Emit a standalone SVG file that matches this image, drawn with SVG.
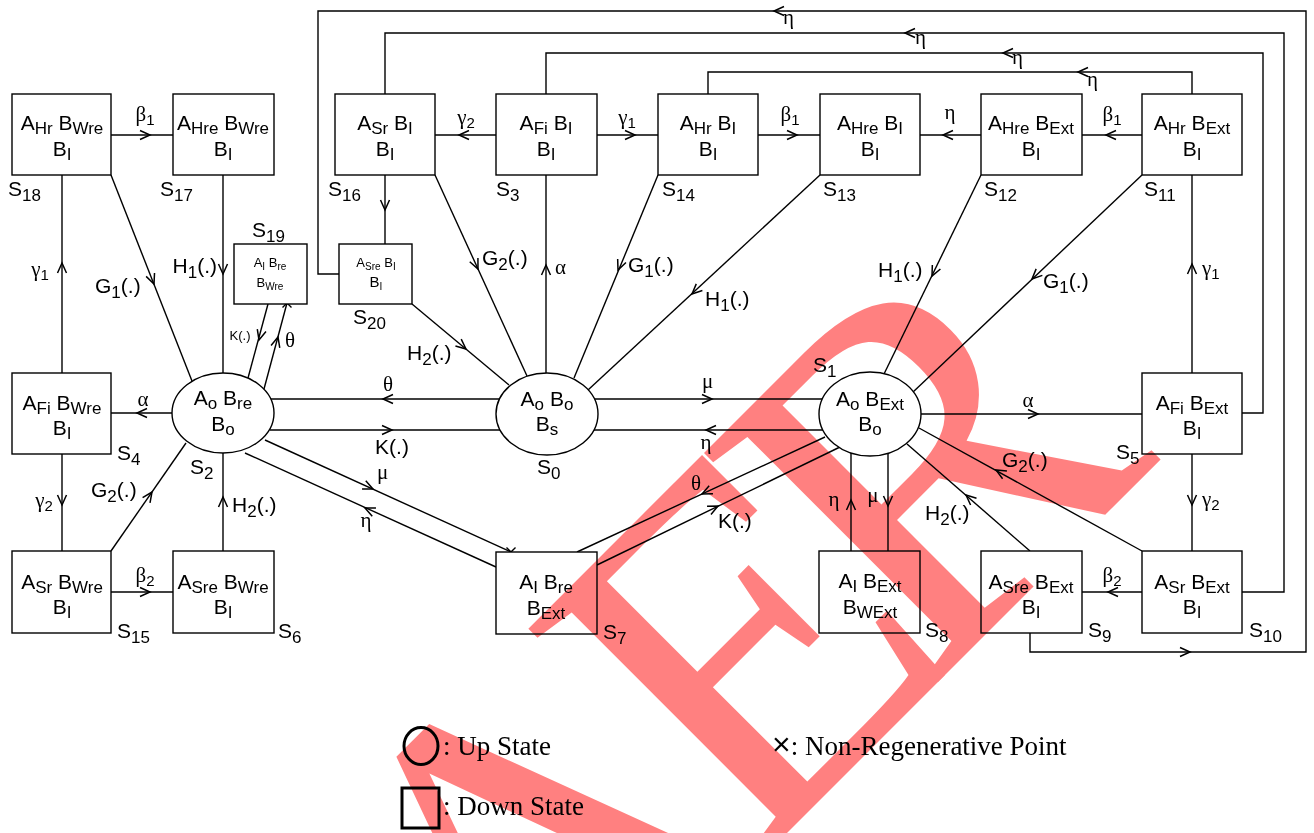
<svg xmlns="http://www.w3.org/2000/svg" xmlns:xlink="http://www.w3.org/1999/xlink" width="1314" height="833" viewBox="0 0 1314 833">
<style>
.ln{fill:none;stroke:#000;stroke-width:1.4}
.bx{fill:#fff;stroke:#000;stroke-width:1.4}
.nt{font-family:"Liberation Sans",Arial,sans-serif;font-size:21px;fill:#000;text-anchor:middle}
.sm{font-family:"Liberation Sans",Arial,sans-serif;font-size:13px;fill:#000;text-anchor:middle}
.sb{font-size:17px}
.ssb{font-size:10px}
.sl{font-family:"Liberation Sans",Arial,sans-serif;font-size:21px;fill:#000}
.el{font-family:"Liberation Sans",Arial,sans-serif;font-size:21px;fill:#000}
.gk{font-family:"Liberation Serif","DejaVu Serif",serif;font-size:21px;fill:#000}
.gs{font-family:"Liberation Sans",Arial,sans-serif;font-size:15px}
.mid{text-anchor:middle}
.end{text-anchor:end}
.lg{font-family:"Liberation Serif","Times New Roman",serif;font-size:27px;fill:#000}
.wm{font-family:"Liberation Serif","Times New Roman",serif;fill:#ff8080;mix-blend-mode:multiply}
</style>
<defs>
<path id="ah" d="M-10,-4.5 L0,0 L-10,4.5" fill="none" stroke="#000" stroke-width="1.5"/>
<path id="xm" d="M-4.5,-4.5 L4.5,4.5 M-4.5,4.5 L4.5,-4.5" fill="none" stroke="#000" stroke-width="1.4"/>
</defs>
<rect width="1314" height="833" fill="#fff"/>

<g id="connectors">
<path class="ln" d="M111,135H173"/><use href="#ah" transform="translate(150,135)"/>
<path class="ln" d="M435,135H496"/><use href="#ah" transform="translate(459,135) rotate(180)"/>
<path class="ln" d="M597,135H658"/><use href="#ah" transform="translate(635,135)"/>
<path class="ln" d="M758,135H820"/><use href="#ah" transform="translate(797,135)"/>
<path class="ln" d="M920,135H981"/><use href="#ah" transform="translate(943,135) rotate(180)"/>
<path class="ln" d="M1082,135H1142"/><use href="#ah" transform="translate(1106,135) rotate(180)"/>

<path class="ln" d="M1030,633V652H1306V11H318V274H339"/><use href="#ah" transform="translate(1190,652)"/><use href="#ah" transform="translate(774,11) rotate(180)"/>
<path class="ln" d="M1242,592H1284V33H385V94"/><use href="#ah" transform="translate(905,33) rotate(180)"/>
<path class="ln" d="M1242,413H1263V53H546V94"/><use href="#ah" transform="translate(1003,53) rotate(180)"/>
<path class="ln" d="M1192,94V72H708V94"/><use href="#ah" transform="translate(1078,72) rotate(180)"/>

<path class="ln" d="M62,373V175"/><use href="#ah" transform="translate(62,263) rotate(-90)"/>
<path class="ln" d="M62,454V551"/><use href="#ah" transform="translate(62,505) rotate(90)"/>
<path class="ln" d="M111,592H173"/><use href="#ah" transform="translate(150,592)"/>
<path class="ln" d="M223,551V453"/><use href="#ah" transform="translate(223,497) rotate(-90)"/>
<path class="ln" d="M223,175V373"/><use href="#ah" transform="translate(223,274) rotate(90)"/>
<path class="ln" d="M172,413H111"/><use href="#ah" transform="translate(137,413) rotate(180)"/>
<path class="ln" d="M111,175L192,381"/><use href="#ah" transform="translate(154,284) rotate(68.5)"/>
<path class="ln" d="M111,551L186,443"/><use href="#ah" transform="translate(152,492) rotate(-55.3)"/>
<path class="ln" d="M268,304L248,378"/><use href="#ah" transform="translate(259,340) rotate(105.3)"/>
<path class="ln" d="M264,389L287,303"/><use href="#ah" transform="translate(278,337) rotate(-75)"/>
<path class="ln" d="M500,399H270"/><use href="#ah" transform="translate(383,399) rotate(180)"/>
<path class="ln" d="M270,430H500"/><use href="#ah" transform="translate(392,430)"/>
<path class="ln" d="M265,440L511,552"/><use href="#ah" transform="translate(373,489) rotate(24.5)"/>
<path class="ln" d="M496,567L245,453"/><use href="#ah" transform="translate(365,508) rotate(204.4)"/>
<path class="ln" d="M385,175V244"/><use href="#ah" transform="translate(385,210) rotate(90)"/>
<path class="ln" d="M412,304L509,385"/><use href="#ah" transform="translate(466,349) rotate(39.9)"/>
<path class="ln" d="M435,175L527,376"/><use href="#ah" transform="translate(478,269) rotate(65.4)"/>
<path class="ln" d="M546,373V175"/><use href="#ah" transform="translate(546,265) rotate(-90)"/>
<path class="ln" d="M658,175L574,378"/><use href="#ah" transform="translate(618,270) rotate(112.5)"/>
<path class="ln" d="M820,175L588,390"/><use href="#ah" transform="translate(692,294) rotate(137.2)"/>
<path class="ln" d="M594,399H822"/><use href="#ah" transform="translate(712,399)"/>
<path class="ln" d="M823,430H594"/><use href="#ah" transform="translate(706,430) rotate(180)"/>
<path class="ln" d="M825,437L577,552"/><use href="#ah" transform="translate(702,494) rotate(155.1)"/>
<path class="ln" d="M597,565L840,447"/><use href="#ah" transform="translate(718,506) rotate(-25.9)"/>
<path class="ln" d="M851,551V452"/><use href="#ah" transform="translate(851,500) rotate(-90)"/>
<path class="ln" d="M888,453V551"/><use href="#ah" transform="translate(888,506) rotate(90)"/>
<path class="ln" d="M1030,551L907,444"/><use href="#ah" transform="translate(966,495) rotate(-139)"/>
<path class="ln" d="M1142,551L919,428"/><use href="#ah" transform="translate(996,470) rotate(-151.1)"/>
<path class="ln" d="M921,414H1142"/><use href="#ah" transform="translate(1038,414)"/>
<path class="ln" d="M1192,373V175"/><use href="#ah" transform="translate(1192,264) rotate(-90)"/>
<path class="ln" d="M1192,454V551"/><use href="#ah" transform="translate(1192,505) rotate(90)"/>
<path class="ln" d="M1142,592H1082"/><use href="#ah" transform="translate(1108,592) rotate(180)"/>
<path class="ln" d="M981,175L884,374"/><use href="#ah" transform="translate(932,276) rotate(116)"/>
<path class="ln" d="M1142,175L912,393"/><use href="#ah" transform="translate(1032,279) rotate(136.5)"/>
<use href="#xm" transform="translate(287,303)"/>
<use href="#xm" transform="translate(511,552)"/>
</g>

<g id="edge-labels">
<text class="gk mid" x="145" y="121">β<tspan class="gs" dy="4">1</tspan></text>
<text class="gk mid" x="466" y="124">γ<tspan class="gs" dy="4">2</tspan></text>
<text class="gk mid" x="627" y="124">γ<tspan class="gs" dy="4">1</tspan></text>
<text class="gk mid" x="790" y="121">β<tspan class="gs" dy="4">1</tspan></text>
<text class="gk mid" x="950" y="119">η</text>
<text class="gk mid" x="1112" y="121">β<tspan class="gs" dy="4">1</tspan></text>
<text class="gk" x="783" y="24">η</text>
<text class="gk" x="915" y="44">η</text>
<text class="gk" x="1012" y="64">η</text>
<text class="gk" x="1087" y="86">η</text>
<text class="gk mid" x="40" y="276">γ<tspan class="gs" dy="4">1</tspan></text>
<text class="el" x="95" y="293">G<tspan class="sb" dy="5">1</tspan><tspan dy="-5">(.)</tspan></text>
<text class="el end" x="217" y="273">H<tspan class="sb" dy="5">1</tspan><tspan dy="-5">(.)</tspan></text>
<text class="sm" x="240" y="340">K(.)</text>
<text class="gk" x="285" y="347">θ</text>
<text class="gk mid" x="143" y="406">α</text>
<text class="gk mid" x="44" y="507">γ<tspan class="gs" dy="4">2</tspan></text>
<text class="el" x="91" y="497">G<tspan class="sb" dy="5">2</tspan><tspan dy="-5">(.)</tspan></text>
<text class="gk mid" x="145" y="582">β<tspan class="gs" dy="4">2</tspan></text>
<text class="el" x="232" y="512">H<tspan class="sb" dy="5">2</tspan><tspan dy="-5">(.)</tspan></text>
<text class="gk mid" x="388" y="391">θ</text>
<text class="el mid" x="392" y="454">K(.)</text>
<text class="gk" x="377" y="479">μ</text>
<text class="gk mid" x="366" y="527">η</text>
<text class="el" x="407" y="360">H<tspan class="sb" dy="5">2</tspan><tspan dy="-5">(.)</tspan></text>
<text class="el" x="482" y="265">G<tspan class="sb" dy="5">2</tspan><tspan dy="-5">(.)</tspan></text>
<text class="gk" x="555" y="274">α</text>
<text class="el" x="628" y="272">G<tspan class="sb" dy="5">1</tspan><tspan dy="-5">(.)</tspan></text>
<text class="el" x="705" y="306">H<tspan class="sb" dy="5">1</tspan><tspan dy="-5">(.)</tspan></text>
<text class="gk" x="702" y="388">μ</text>
<text class="gk mid" x="706" y="449">η</text>
<text class="gk mid" x="696" y="490">θ</text>
<text class="el" x="718" y="528">K(.)</text>
<text class="gk mid" x="834" y="506">η</text>
<text class="gk mid" x="873" y="502">μ</text>
<text class="el" x="925" y="520">H<tspan class="sb" dy="5">2</tspan><tspan dy="-5">(.)</tspan></text>
<text class="el" x="1002" y="467">G<tspan class="sb" dy="5">2</tspan><tspan dy="-5">(.)</tspan></text>
<text class="gk mid" x="1028" y="407">α</text>
<text class="gk" x="1202" y="275">γ<tspan class="gs" dy="4">1</tspan></text>
<text class="gk" x="1202" y="506">γ<tspan class="gs" dy="4">2</tspan></text>
<text class="gk mid" x="1112" y="582">β<tspan class="gs" dy="4">2</tspan></text>
<text class="el" x="878" y="277">H<tspan class="sb" dy="5">1</tspan><tspan dy="-5">(.)</tspan></text>
<text class="el" x="1043" y="288">G<tspan class="sb" dy="5">1</tspan><tspan dy="-5">(.)</tspan></text>
</g>

<g id="S18"><rect class="bx" x="12" y="94" width="99" height="81"/>
<text class="nt" x="62" y="130">A<tspan class="sb" dy="4">Hr</tspan><tspan dy="-4"> B</tspan><tspan class="sb" dy="4">Wre</tspan></text>
<text class="nt" x="62" y="156">B<tspan class="sb" dy="4">I</tspan></text>
<text class="sl" x="8" y="196">S<tspan class="sb" dy="5">18</tspan></text></g>

<g id="S17"><rect class="bx" x="173" y="94" width="101" height="81"/>
<text class="nt" x="223" y="130">A<tspan class="sb" dy="4">Hre</tspan><tspan dy="-4"> B</tspan><tspan class="sb" dy="4">Wre</tspan></text>
<text class="nt" x="223" y="156">B<tspan class="sb" dy="4">I</tspan></text>
<text class="sl" x="160" y="196">S<tspan class="sb" dy="5">17</tspan></text></g>

<g id="S16"><rect class="bx" x="335" y="94" width="100" height="81"/>
<text class="nt" x="385" y="130">A<tspan class="sb" dy="4">Sr</tspan><tspan dy="-4"> B</tspan><tspan class="sb" dy="4">I</tspan></text>
<text class="nt" x="385" y="156">B<tspan class="sb" dy="4">I</tspan></text>
<text class="sl" x="328" y="196">S<tspan class="sb" dy="5">16</tspan></text></g>

<g id="S3"><rect class="bx" x="496" y="94" width="101" height="81"/>
<text class="nt" x="546" y="130">A<tspan class="sb" dy="4">Fi</tspan><tspan dy="-4"> B</tspan><tspan class="sb" dy="4">I</tspan></text>
<text class="nt" x="546" y="156">B<tspan class="sb" dy="4">I</tspan></text>
<text class="sl" x="496" y="196">S<tspan class="sb" dy="5">3</tspan></text></g>

<g id="S14"><rect class="bx" x="658" y="94" width="100" height="81"/>
<text class="nt" x="708" y="130">A<tspan class="sb" dy="4">Hr</tspan><tspan dy="-4"> B</tspan><tspan class="sb" dy="4">I</tspan></text>
<text class="nt" x="708" y="156">B<tspan class="sb" dy="4">I</tspan></text>
<text class="sl" x="662" y="196">S<tspan class="sb" dy="5">14</tspan></text></g>

<g id="S13"><rect class="bx" x="820" y="94" width="100" height="81"/>
<text class="nt" x="870" y="130">A<tspan class="sb" dy="4">Hre</tspan><tspan dy="-4"> B</tspan><tspan class="sb" dy="4">I</tspan></text>
<text class="nt" x="870" y="156">B<tspan class="sb" dy="4">I</tspan></text>
<text class="sl" x="823" y="196">S<tspan class="sb" dy="5">13</tspan></text></g>

<g id="S12"><rect class="bx" x="981" y="94" width="101" height="81"/>
<text class="nt" x="1031" y="130">A<tspan class="sb" dy="4">Hre</tspan><tspan dy="-4"> B</tspan><tspan class="sb" dy="4">Ext</tspan></text>
<text class="nt" x="1031" y="156">B<tspan class="sb" dy="4">I</tspan></text>
<text class="sl" x="984" y="196">S<tspan class="sb" dy="5">12</tspan></text></g>

<g id="S11"><rect class="bx" x="1142" y="94" width="100" height="81"/>
<text class="nt" x="1192" y="130">A<tspan class="sb" dy="4">Hr</tspan><tspan dy="-4"> B</tspan><tspan class="sb" dy="4">Ext</tspan></text>
<text class="nt" x="1192" y="156">B<tspan class="sb" dy="4">I</tspan></text>
<text class="sl" x="1144" y="196">S<tspan class="sb" dy="5">11</tspan></text></g>

<g id="S19"><rect class="bx" x="234" y="244" width="73" height="60"/>
<text class="sm" x="270" y="267">A<tspan class="ssb" dy="3">I</tspan><tspan dy="-3"> B</tspan><tspan class="ssb" dy="3">re</tspan></text>
<text class="sm" x="270" y="287">B<tspan class="ssb" dy="3">Wre</tspan></text>
<text class="sl" x="252" y="237">S<tspan class="sb" dy="5">19</tspan></text></g>

<g id="S20"><rect class="bx" x="339" y="244" width="73" height="60"/>
<text class="sm" x="376" y="267">A<tspan class="ssb" dy="3">Sre</tspan><tspan dy="-3"> B</tspan><tspan class="ssb" dy="3">I</tspan></text>
<text class="sm" x="376" y="287" style="font-size:15px">B<tspan class="ssb" dy="3">I</tspan></text>
<text class="sl" x="353" y="324">S<tspan class="sb" dy="5">20</tspan></text></g>

<g id="S4"><rect class="bx" x="12" y="373" width="99" height="81"/>
<text class="nt" x="62" y="410">A<tspan class="sb" dy="4">Fi</tspan><tspan dy="-4"> B</tspan><tspan class="sb" dy="4">Wre</tspan></text>
<text class="nt" x="62" y="435">B<tspan class="sb" dy="4">I</tspan></text>
<text class="sl" x="117" y="460">S<tspan class="sb" dy="5">4</tspan></text></g>

<g id="S2"><ellipse class="bx" cx="223" cy="413" rx="51" ry="40"/>
<text class="nt" x="223" y="405">A<tspan class="sb" dy="4">o</tspan><tspan dy="-4"> B</tspan><tspan class="sb" dy="4">re</tspan></text>
<text class="nt" x="223" y="431">B<tspan class="sb" dy="4">o</tspan></text>
<text class="sl" x="190" y="474">S<tspan class="sb" dy="5">2</tspan></text></g>

<g id="S0"><ellipse class="bx" cx="547" cy="414" rx="51" ry="41"/>
<text class="nt" x="547" y="406">A<tspan class="sb" dy="4">o</tspan><tspan dy="-4"> B</tspan><tspan class="sb" dy="4">o</tspan></text>
<text class="nt" x="547" y="431">B<tspan class="sb" dy="4">s</tspan></text>
<text class="sl" x="537" y="474">S<tspan class="sb" dy="5">0</tspan></text></g>

<g id="S1"><ellipse class="bx" cx="870" cy="414" rx="51" ry="42"/>
<text class="nt" x="870" y="406">A<tspan class="sb" dy="4">o</tspan><tspan dy="-4"> B</tspan><tspan class="sb" dy="4">Ext</tspan></text>
<text class="nt" x="870" y="431">B<tspan class="sb" dy="4">o</tspan></text>
<text class="sl" x="813" y="372">S<tspan class="sb" dy="5">1</tspan></text></g>

<g id="S5"><rect class="bx" x="1142" y="373" width="100" height="81"/>
<text class="nt" x="1192" y="410">A<tspan class="sb" dy="4">Fi</tspan><tspan dy="-4"> B</tspan><tspan class="sb" dy="4">Ext</tspan></text>
<text class="nt" x="1192" y="435">B<tspan class="sb" dy="4">I</tspan></text>
<text class="sl" x="1116" y="459">S<tspan class="sb" dy="5">5</tspan></text></g>

<g id="S15"><rect class="bx" x="12" y="551" width="99" height="82"/>
<text class="nt" x="62" y="589">A<tspan class="sb" dy="4">Sr</tspan><tspan dy="-4"> B</tspan><tspan class="sb" dy="4">Wre</tspan></text>
<text class="nt" x="62" y="614">B<tspan class="sb" dy="4">I</tspan></text>
<text class="sl" x="117" y="638">S<tspan class="sb" dy="5">15</tspan></text></g>

<g id="S6"><rect class="bx" x="173" y="551" width="101" height="82"/>
<text class="nt" x="223" y="589">A<tspan class="sb" dy="4">Sre</tspan><tspan dy="-4"> B</tspan><tspan class="sb" dy="4">Wre</tspan></text>
<text class="nt" x="223" y="614">B<tspan class="sb" dy="4">I</tspan></text>
<text class="sl" x="278" y="638">S<tspan class="sb" dy="5">6</tspan></text></g>

<g id="S7"><rect class="bx" x="496" y="552" width="101" height="82"/>
<text class="nt" x="546" y="589">A<tspan class="sb" dy="4">I</tspan><tspan dy="-4"> B</tspan><tspan class="sb" dy="4">re</tspan></text>
<text class="nt" x="546" y="615">B<tspan class="sb" dy="4">Ext</tspan></text>
<text class="sl" x="603" y="639">S<tspan class="sb" dy="5">7</tspan></text></g>

<g id="S8"><rect class="bx" x="819" y="551" width="101" height="82"/>
<text class="nt" x="870" y="588">A<tspan class="sb" dy="4">I</tspan><tspan dy="-4"> B</tspan><tspan class="sb" dy="4">Ext</tspan></text>
<text class="nt" x="870" y="614">B<tspan class="sb" dy="4">WExt</tspan></text>
<text class="sl" x="925" y="637">S<tspan class="sb" dy="5">8</tspan></text></g>

<g id="S9"><rect class="bx" x="981" y="551" width="101" height="82"/>
<text class="nt" x="1031" y="589">A<tspan class="sb" dy="4">Sre</tspan><tspan dy="-4"> B</tspan><tspan class="sb" dy="4">Ext</tspan></text>
<text class="nt" x="1031" y="614">B<tspan class="sb" dy="4">I</tspan></text>
<text class="sl" x="1088" y="637">S<tspan class="sb" dy="5">9</tspan></text></g>

<g id="S10"><rect class="bx" x="1142" y="551" width="100" height="82"/>
<text class="nt" x="1192" y="589">A<tspan class="sb" dy="4">Sr</tspan><tspan dy="-4"> B</tspan><tspan class="sb" dy="4">Ext</tspan></text>
<text class="nt" x="1192" y="614">B<tspan class="sb" dy="4">I</tspan></text>
<text class="sl" x="1249" y="637">S<tspan class="sb" dy="5">10</tspan></text></g>

<g id="legend">
<ellipse cx="421" cy="746" rx="17" ry="18.5" fill="none" stroke="#000" stroke-width="3"/>
<text class="lg" x="443" y="755">: Up State</text>
<rect x="402" y="788" width="37" height="40" fill="none" stroke="#000" stroke-width="3"/>
<text class="lg" x="443" y="815">: Down State</text>
<text class="lg" x="772" y="755"><tspan font-family="Liberation Sans,Arial,sans-serif" font-size="32">×</tspan>: Non-Regenerative Point</text>
</g>

<g id="watermark">
<text class="wm" x="239" y="1381" font-size="500" transform="rotate(-45 239 1381)">IJ<tspan dx="38">A</tspan><tspan dx="-38">E</tspan><tspan dx="-57">R</tspan></text>
</g>
</svg>
